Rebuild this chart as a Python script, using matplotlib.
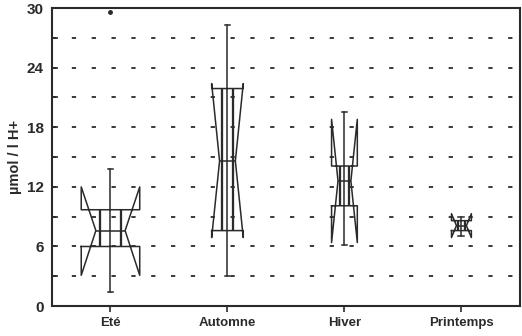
import numpy as np
import matplotlib
matplotlib.use('Agg')
import matplotlib.pyplot as plt

plt.rcParams['font.family'] = ['Liberation Sans', 'DejaVu Sans']
plt.rcParams['font.weight'] = 'bold'

# values (umol / l H+)
seasons = ['Eté', 'Automne', 'Hiver', 'Printemps']
medians = [7.6, 14.6, 12.6, 8.1]
q1 = [6.0, 7.6, 10.1, 7.6]
q3 = [9.7, 21.9, 14.1, 8.6]
ci_lo = [3.1, 6.9, 6.4, 6.9]
ci_hi = [12.0, 22.4, 18.8, 9.3]
wh_lo = [1.4, 3.0, 6.1, 7.1]
wh_hi = [13.8, 28.3, 19.5, 9.0]
outliers = [[29.6], [], [], []]
box_w = [0.50, 0.27, 0.22, 0.17]

ink = '#2a2a2a'
pos = np.arange(1, len(seasons) + 1)

stats = []
for i, s in enumerate(seasons):
    stats.append(dict(label=s, med=medians[i], q1=q1[i], q3=q3[i],
                      cilo=ci_lo[i], cihi=ci_hi[i],
                      whislo=wh_lo[i], whishi=wh_hi[i],
                      fliers=outliers[i]))

fig = plt.figure(figsize=(5.22, 3.36), dpi=100)
ax = fig.add_axes([0.0996, 0.089, 0.8964, 0.887])

# dashed grid every 3 units
for g in np.arange(3, 30, 3):
    ax.axhline(g, color='#3a3a3a', lw=1.4, ls=(0, (2.2, 8)), zorder=0)

lw = 1.1
ax.bxp(stats, positions=pos, widths=box_w, shownotches=True,
       capwidths=0.05, patch_artist=False,
       boxprops=dict(color=ink, lw=lw),
       medianprops=dict(color=ink, lw=lw),
       whiskerprops=dict(color=ink, lw=lw),
       capprops=dict(color=ink, lw=lw),
       flierprops=dict(marker='o', markersize=2.5, markerfacecolor=ink,
                       markeredgecolor=ink))

# whisker line continues through the box, plus the narrow inner box
ax.vlines(pos, q1, q3, color=ink, lw=lw)
inner = np.array(box_w) * 0.5 * 0.35
ax.vlines(pos - inner, q1, q3, color=ink, lw=lw * 1.5)
ax.vlines(pos + inner, q1, q3, color=ink, lw=lw * 1.5)

ax.set_xlim(0.5, 4.5)
ax.set_ylim(0, 30)
ax.set_yticks(np.arange(0, 31, 6))
ax.set_yticks(np.arange(3, 30, 6), minor=True)
ax.set_xticks(pos)
ax.set_xticklabels(seasons)
ax.tick_params(axis='y', which='both', direction='in', length=4, width=1.2,
               labelsize=11, colors=ink, pad=6)
ax.tick_params(axis='x', direction='out', length=4, width=1.2,
               labelsize=9.5, colors=ink, pad=4)
ax.set_ylabel('µmol / l H+', fontsize=10.5, fontweight='bold', color=ink,
              labelpad=3)
for sp in ax.spines.values():
    sp.set_linewidth(1.5)
    sp.set_color(ink)

fig.savefig('out.png', dpi=100)
